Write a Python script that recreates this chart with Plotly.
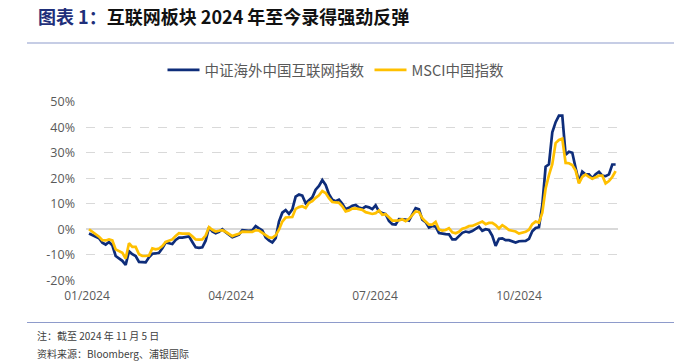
import plotly.graph_objects as go

# ---- data (cumulative return, %, sampled along the trading-day axis) ----
csi_overseas_internet = [
    -1.7, -2.2, -2.8, -3.5, -5.3, -6.0, -5.0, -6.3, -10.5, -11.5,
    -12.4, -14.0, -8.6, -9.8, -10.5, -12.8, -13.0, -13.0, -11.0, -9.6,
    -9.5, -9.2, -7.5, -5.2, -5.5, -5.8, -4.2, -3.3, -3.3, -3.0,
    -2.8, -5.0, -7.1, -7.3, -7.1, -4.5, 0.8, -0.9, -1.6, -1.0,
    0.0, -1.2, -2.0, -3.1, -2.6, -2.1, -0.4, -0.5, -0.6, -0.4,
    1.2, 0.3, -0.5, -3.2, -4.4, -5.2, -3.5, 3.0, 6.5, 7.5,
    6.0, 7.8, 12.8, 13.6, 13.2, 10.2, 11.5, 12.5, 15.5, 17.0,
    19.3, 17.4, 13.7, 11.6, 11.0, 11.6, 10.0, 7.9, 8.4, 9.2,
    9.5, 8.5, 8.1, 8.9, 8.6, 7.9, 9.4, 7.0, 6.4, 5.9,
    3.3, 2.0, 1.8, 4.0, 3.9, 3.8, 3.4, 5.8, 8.3, 7.8,
    3.8, 2.8, 0.7, 1.3, 1.0, -1.5, -1.8, -1.9, -2.0, -4.0,
    -4.0, -2.5, -1.4, -0.9, -1.2, -0.7, 0.3, 1.0, -0.6, 0.0,
    -0.3, -2.6, -6.5, -3.7, -3.6, -4.3, -4.3, -4.8, -5.2, -4.7,
    -4.7, -4.6, -3.8, -0.8, 0.5, 0.8, 9.5, 24.5, 25.5, 38.0,
    42.0, 44.6, 44.6, 29.2, 30.4, 30.0, 24.0, 18.5, 22.6, 21.5,
    21.5, 20.0, 21.6, 22.5, 21.0, 20.8, 21.5, 25.4, 25.4,
]
msci_china = [
    0.0, -0.9, -1.8, -2.9, -4.3, -4.4, -4.0, -4.4, -7.9, -8.6,
    -9.2, -11.5, -5.5, -6.9, -6.9, -9.8, -10.5, -10.5, -10.3, -7.5,
    -7.9, -7.6, -6.6, -5.0, -4.5, -4.0, -2.6, -1.5, -1.7, -1.6,
    -1.7, -2.8, -4.0, -4.1, -4.0, -2.5, 0.8, -0.2, -0.9, -0.6,
    -0.4, -1.0, -1.8, -2.7, -2.2, -1.8, -0.9, -0.9, -1.0, -1.0,
    -0.4, -0.5, -1.4, -2.2, -3.2, -3.4, -2.4, -0.2, 3.0, 4.6,
    4.8, 4.8, 8.0, 8.7, 9.0, 8.3, 10.4, 11.0, 12.3, 13.3,
    15.0, 14.2, 12.2, 10.7, 10.5, 10.4, 9.0, 7.0, 7.4, 8.1,
    8.2, 7.9, 7.6, 6.7, 6.3, 6.0, 6.3, 7.4, 5.7, 5.9,
    4.7, 3.4, 3.4, 3.5, 3.9, 3.2, 4.1, 5.6, 7.0, 6.8,
    4.3, 3.0, 1.8, 1.8, 2.9, -0.1, -0.5, -0.3, 0.4, -1.2,
    -1.6, -1.0, 0.2, 0.6, 1.2, 1.3, 1.9, 2.5, 3.0, 2.0,
    2.5, 2.5, 1.6, 0.3, 1.6, 0.7, -0.3, -0.6, -0.9, -1.7,
    -1.4, -1.0, -0.2, 2.0, 3.0, 2.6, 6.5, 16.0, 21.2, 25.5,
    33.8, 35.0, 35.5, 26.0, 25.9, 25.2, 23.0, 18.0, 20.5, 21.5,
    20.5, 19.8, 20.4, 21.0, 21.0, 18.0, 18.9, 20.5, 22.8,
]
x_idx = list(range(len(csi_overseas_internet)))

tick_labels = ["01/2024", "04/2024", "07/2024", "10/2024"]
quarter_step = 43.2
tick_positions = [i * quarter_step - 0.6 for i in range(len(tick_labels))]

y_ticks = [-20, -10, 0, 10, 20, 30, 40, 50]
y_tick_labels = [f"{v}%" for v in y_ticks]

series_names = ["中证海外中国互联网指数", "MSCI中国指数"]
NAVY = "#0E2D7A"
GOLD = "#FFC000"

W, H = 674, 363
L, R, T, B = 86, 618, 101, 281  # plot area in px


def px_x(x):
    return (x - L) / (R - L)


def px_y(y):
    return (B - y) / (B - T)


fig = go.Figure()
fig.add_trace(go.Scatter(x=x_idx, y=csi_overseas_internet, name=series_names[0],
                         mode="lines", line=dict(color=NAVY, width=2.7)))
fig.add_trace(go.Scatter(x=x_idx, y=msci_china, name=series_names[1],
                         mode="lines", line=dict(color=GOLD, width=2.7)))

CJK = "Noto Sans CJK SC"

fig.update_layout(
    width=W, height=H,
    margin=dict(l=L, r=W - R, t=T, b=H - B, pad=0),
    paper_bgcolor="white", plot_bgcolor="white",
    font=dict(family=CJK, color="#595959"),
    showlegend=True,
    legend=dict(orientation="h", x=px_x(336), y=px_y(70), xanchor="center", yanchor="middle",
                font=dict(size=14.5, color="#595959", family=CJK),
                itemwidth=32, tracegroupgap=0, bgcolor="rgba(0,0,0,0)"),
    title=dict(
        text="<span style='color:#1F2F7A'>图表 1：</span>互联网板块 2024 年至今录得强劲反弹",
        x=38 / W, xanchor="left", xref="container",
        y=1 - 18 / H, yanchor="middle", yref="container",
        font=dict(family=CJK, size=18, color="#111111", weight="bold"),
    ),
    xaxis=dict(
        range=[(L - 89) / 3.333, (R - 89) / 3.333],
        tickmode="array", tickvals=tick_positions, ticktext=tick_labels,
        showgrid=False, zeroline=False, showline=False, ticks="",
        tickfont=dict(size=12, color="#595959", family="Open Sans"),
        ticklabelstandoff=6,
    ),
    yaxis=dict(
        range=[-20.3, 50.3],
        tickmode="array", tickvals=y_ticks, ticktext=y_tick_labels,
        showgrid=True, gridcolor="#D9D9D9", griddash="dash", gridwidth=1,
        zeroline=True, zerolinecolor="#D9D9D9", zerolinewidth=2,
        showline=False, ticks="",
        tickfont=dict(size=12.5, color="#595959", family="Open Sans"),
        ticklabelstandoff=10,
    ),
)

line_color = "#8E9BCB"
fig.add_shape(type="line", xref="paper", yref="paper",
              x0=px_x(27), x1=px_x(674), y0=px_y(43), y1=px_y(43),
              line=dict(color=line_color, width=1.2))
fig.add_shape(type="line", xref="paper", yref="paper",
              x0=px_x(27), x1=px_x(674), y0=px_y(322.5), y1=px_y(322.5),
              line=dict(color=line_color, width=1.2))

notes = ["注：截至 2024 年 11 月 5 日", "资料来源：Bloomberg、浦银国际"]
for i, txt in enumerate(notes):
    fig.add_annotation(text=txt, xref="paper", yref="paper",
                       x=px_x(35), y=px_y(335 + 18 * i), xanchor="left", yanchor="middle",
                       showarrow=False, font=dict(size=10, color="#404040", family=CJK))

fig.write_html("out.html", config={"displayModeBar": False},
               post_script="document.body.style.margin='0';")
